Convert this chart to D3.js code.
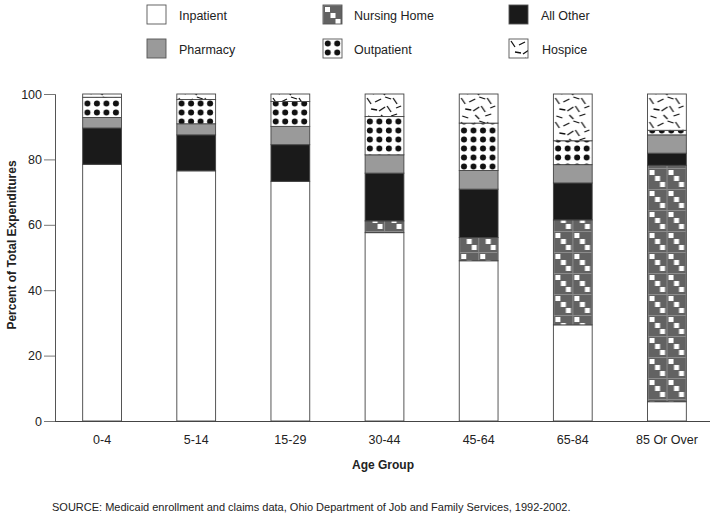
<!DOCTYPE html>
<html><head><meta charset="utf-8">
<script src="https://cdn.jsdelivr.net/npm/d3@7"></script>
<style>
body{margin:0;background:#fff;}
text{font-family:"Liberation Sans",Arial,Helvetica,sans-serif;fill:#222;}
</style></head>
<body>
<svg id="chart" width="714" height="519"></svg>
<script>
const ageGroups = ["0-4","5-14","15-29","30-44","45-64","65-84","85 Or Over"];
const inpatient   = [78.5, 76.5, 73.3, 57.6, 49.0, 29.4, 5.9];
const nursingHome = [0,    0,    0,    3.6,  7.1,  32.1, 72.3];
const allOther    = [11.1, 11.0, 11.2, 14.6, 14.8, 11.3, 3.7];
const pharmacy    = [3.2,  3.4,  5.6,  5.6,  5.7,  5.6,  5.6];
const outpatient  = [6.2,  7.4,  7.6,  11.7, 14.5, 7.3,  1.4];
const hospice     = [1.0,  1.7,  2.3,  6.9,  8.9,  14.3, 11.1];
const yTicks = [0,20,40,60,80,100];
const seriesNames = ["Inpatient","Nursing Home","All Other","Pharmacy","Outpatient","Hospice"];
const legendOrder = ["Inpatient","Nursing Home","All Other","Pharmacy","Outpatient","Hospice"];
const sourceNote = "SOURCE: Medicaid enrollment and claims data, Ohio Department of Job and Family Services, 1992-2002.";

const seriesValues = {"Inpatient":inpatient,"Nursing Home":nursingHome,"All Other":allOther,
  "Pharmacy":pharmacy,"Outpatient":outpatient,"Hospice":hospice};
const table = ageGroups.map((g,i)=>{const o={group:g};seriesNames.forEach(k=>o[k]=seriesValues[k][i]);return o;});

const svg = d3.select("#chart");
const defs = svg.append("defs");

// patterns
const nh = defs.append("pattern").attr("id","p-nh").attr("patternUnits","userSpaceOnUse")
  .attr("width",19).attr("height",21);
nh.append("rect").attr("width",19).attr("height",21).attr("fill","#626262");
nh.append("path").attr("d","M0,0.5H19M0.5,0V21").attr("stroke","#8c8c8c").attr("stroke-width",1);
[[2,2],[7.5,8],[12.5,14]].forEach(([x,y])=>nh.append("rect").attr("x",x).attr("y",y).attr("width",5).attr("height",5).attr("fill","#fff"));

const op = defs.append("pattern").attr("id","p-op").attr("patternUnits","userSpaceOnUse")
  .attr("width",9.5).attr("height",9);
op.append("rect").attr("width",9.5).attr("height",9).attr("fill","#fff");
op.append("circle").attr("cx",4.75).attr("cy",4.5).attr("r",3).attr("fill","#111");

const hs = defs.append("pattern").attr("id","p-hs").attr("patternUnits","userSpaceOnUse")
  .attr("width",38).attr("height",24);
hs.append("rect").attr("width",38).attr("height",24).attr("fill","#fff");
hs.append("path").attr("d","M2,2L6,8M10,6L16,3M20,1L26,3M28,2L32,8M6,13L12,14M14,15L20,11M22,10L26,16M31,12L36,10M3,20L9,22M16,19L20,23M26,20L32,18")
  .attr("stroke","#111").attr("stroke-width",1.3).attr("fill","none");

const fills = {"Inpatient":"#ffffff","Nursing Home":"url(#p-nh)","All Other":"#1a1a1a",
  "Pharmacy":"#9a9a9a","Outpatient":"url(#p-op)","Hospice":"url(#p-hs)"};

const x = d3.scaleBand().domain(ageGroups).range([55,714]).paddingInner(0.588).paddingOuter(0.294);
const y = d3.scaleLinear().domain([0,100]).range([421,94]);

const stack = d3.stack().keys(seriesNames)(table);

// bars, grouped per category so patterns anchor to each bar
const barG = svg.append("g").selectAll("g").data(ageGroups).join("g")
  .attr("transform",d=>`translate(${x(d)},0)`);
barG.each(function(g,i){
  const gg = d3.select(this);
  stack.forEach(s=>{
    const d = s[i];
    if (d[1]-d[0] <= 0) return;
    gg.append("rect").attr("x",0).attr("width",x.bandwidth())
      .attr("y",y(d[1])).attr("height",y(d[0])-y(d[1]))
      .attr("fill",fills[s.key]).attr("stroke","#444").attr("stroke-width",0.9);
  });
});

// y axis
const yAxis = svg.append("g").attr("transform","translate(55,0)")
  .call(d3.axisLeft(y).tickValues(yTicks).tickSize(11).tickPadding(2));
yAxis.select(".domain").attr("stroke","#555");
yAxis.selectAll(".tick line").attr("stroke","#777");
yAxis.selectAll(".tick text").attr("font-size",12.5).attr("fill","#222")
  .style("font-family","'Liberation Sans',Arial,sans-serif");

// x axis
const xAxis = svg.append("g").attr("transform","translate(0,421)")
  .call(d3.axisBottom(x).tickSize(0).tickPadding(14).tickSizeOuter(0));
xAxis.select(".domain").attr("stroke","#444").attr("d","M55,0.5H710");
xAxis.selectAll(".tick text").attr("font-size",12.5).attr("fill","#222")
  .style("font-family","'Liberation Sans',Arial,sans-serif");

// axis titles
svg.append("text").attr("x",383).attr("y",469).attr("text-anchor","middle")
  .attr("font-size",12).attr("font-weight","bold").text("Age Group");
svg.append("text").attr("transform","translate(16,245) rotate(-90)").attr("text-anchor","middle")
  .attr("font-size",12).attr("font-weight","bold").text("Percent of Total Expenditures");

// source
svg.append("text").attr("x",52).attr("y",511).attr("font-size",11).text(sourceNote);

// legend
const colX = [147,323,509];
const rowY = [5,39];
legendOrder.forEach((name,i)=>{
  const c = i%3, r = Math.floor(i/3);
  const g = svg.append("g").attr("transform",`translate(${colX[c]},${rowY[r]})`);
  g.append("rect").attr("width",19).attr("height",19).attr("fill",fills[name])
    .attr("stroke","#555").attr("stroke-width",0.9);
  g.append("text").attr("x",name==="Hospice"?33:(c===1?31:32)).attr("y",14.5).attr("font-size",12.5).text(name);
});
</script>
</body></html>
